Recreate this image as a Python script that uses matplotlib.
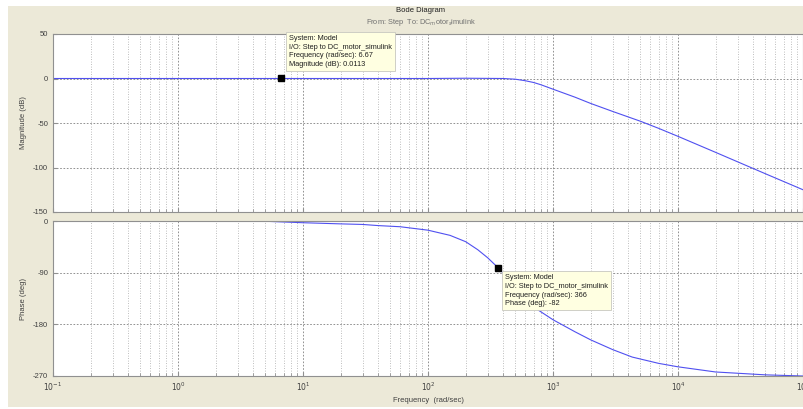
import numpy as np
import matplotlib
matplotlib.use("Agg")
import matplotlib.pyplot as plt
from matplotlib.patches import Rectangle

plt.rcParams['font.family'] = ['Liberation Sans', 'DejaVu Sans']
plt.rcParams['axes.unicode_minus'] = False

# values
mag_freq = [0.1, 1, 10, 100, 200, 400, 500, 600, 700, 800, 1000, 1500, 2000, 3000,
            5000, 7000, 10000, 20000, 50000, 100000]
mag_db = [0, 0, 0, 0, 0.3, 0, -0.8, -2.5, -4.5, -7, -12, -21, -28, -37,
          -48, -56, -65, -83, -107, -125]

ph_freq = [0.1, 1, 5, 10, 20, 30, 40, 60, 100, 150, 200, 250, 300, 366, 430, 500,
           600, 760, 1000, 1500, 2000, 3000, 4300, 7000, 10000, 20000, 50000, 100000]
ph_deg = [0, 0, -0.5, -3, -5, -6, -8, -10, -16, -25, -36, -50, -64, -82, -98, -114,
          -133, -155, -172, -193, -207, -224, -237, -248, -254, -263, -268, -270]

tip1 = (6.67, 0.0113)
tip2 = (366, -82)
tip1_text = "System: Model\nI/O: Step to DC_motor_simulink\nFrequency (rad/sec): 6.67\nMagnitude (dB): 0.0113"
tip2_text = "System: Model\nI/O: Step to DC_motor_simulink\nFrequency (rad/sec): 366\nPhase (deg): -82"

mag_ticks = [50, 0, -50, -100, -150]
ph_ticks = [0, -90, -180, -270]
x_ticks = [1e-1, 1e0, 1e1, 1e2, 1e3, 1e4, 1e5]
x_labels = ["$10^{-1}$", "$10^{0}$", "$10^{1}$", "$10^{2}$", "$10^{3}$", "$10^{4}$", "$10^{5}$"]

beige = "#ECE9D8"
line_col = "#5050F0"
txt_col = "#404040"

fig = plt.figure(figsize=(8.04, 4.09), dpi=100, facecolor="white")
fig.patches.append(Rectangle((8 / 804, 2 / 409), 796 / 804, 401 / 409,
                             transform=fig.transFigure, facecolor=beige,
                             edgecolor="none", zorder=-10))

ax1 = fig.add_axes([53 / 804, 1 - 212 / 409, 750 / 804, 178 / 409])
ax2 = fig.add_axes([53 / 804, 1 - 376 / 409, 750 / 804, 155 / 409])

for ax in (ax1, ax2):
    ax.set_xscale("log")
    ax.set_xlim(0.1, 1e5)
    ax.set_xticks(x_ticks)
    ax.grid(True, which="major", color="#808080", linestyle=(0, (2, 2)), linewidth=0.6)
    ax.grid(True, which="minor", axis="x", color="#a8a8a8", linestyle=(0, (1, 2)), linewidth=0.6)
    ax.tick_params(which="both", direction="in", colors="#909090", labelcolor=txt_col,
                   labelsize=5.5, length=3)
    ax.tick_params(which="minor", length=2)
    for s in ax.spines.values():
        s.set_color("#909090")
    ax.set_axisbelow(True)

ax1.plot(mag_freq, mag_db, color=line_col, linewidth=0.8)
ax1.set_ylim(-150, 50)
ax1.set_yticks(mag_ticks)
ax1.set_xticklabels([])
ax1.set_ylabel("Magnitude (dB)", fontsize=5.5, color=txt_col, labelpad=4)

ax2.plot(ph_freq, ph_deg, color=line_col, linewidth=0.8)
ax2.set_ylim(-270, 0)
ax2.set_yticks(ph_ticks)
ax2.set_xticklabels(x_labels)
ax2.set_ylabel("Phase (deg)", fontsize=5.5, color=txt_col, labelpad=4)
ax2.set_xlabel("Frequency  (rad/sec)", fontsize=5.5, color=txt_col, labelpad=3)

# data tips
ax1.plot(*tip1, marker="s", color="black", markersize=4, zorder=5)
ax1.annotate(tip1_text, xy=tip1, xytext=(5.5, 7.5), textcoords="offset points",
             fontsize=5.3, color="#202020", linespacing=1.35, va="bottom", ha="left",
             bbox=dict(boxstyle="square,pad=0.4", facecolor="#FFFFE1",
                       edgecolor="#c8c8c0", linewidth=0.6), annotation_clip=False, zorder=6)
ax2.plot(*tip2, marker="s", color="black", markersize=4, zorder=5)
ax2.annotate(tip2_text, xy=tip2, xytext=(5, -4.3), textcoords="offset points",
             fontsize=5.3, color="#202020", linespacing=1.35, va="top", ha="left",
             bbox=dict(boxstyle="square,pad=0.4", facecolor="#FFFFE1",
                       edgecolor="#c8c8c0", linewidth=0.6), zorder=6)

fig.text(421 / 804, 1 - 11 / 409, "Bode Diagram", fontsize=5.5, color="#202020",
         ha="center", va="center")
fig.text(421 / 804, 1 - 22 / 409, "From: Step  To: DC$_{m}$otor$_{s}$imulink",
         fontsize=5.3, color="#707070", ha="center", va="center")

fig.savefig("out.png", dpi=100, facecolor="white")
